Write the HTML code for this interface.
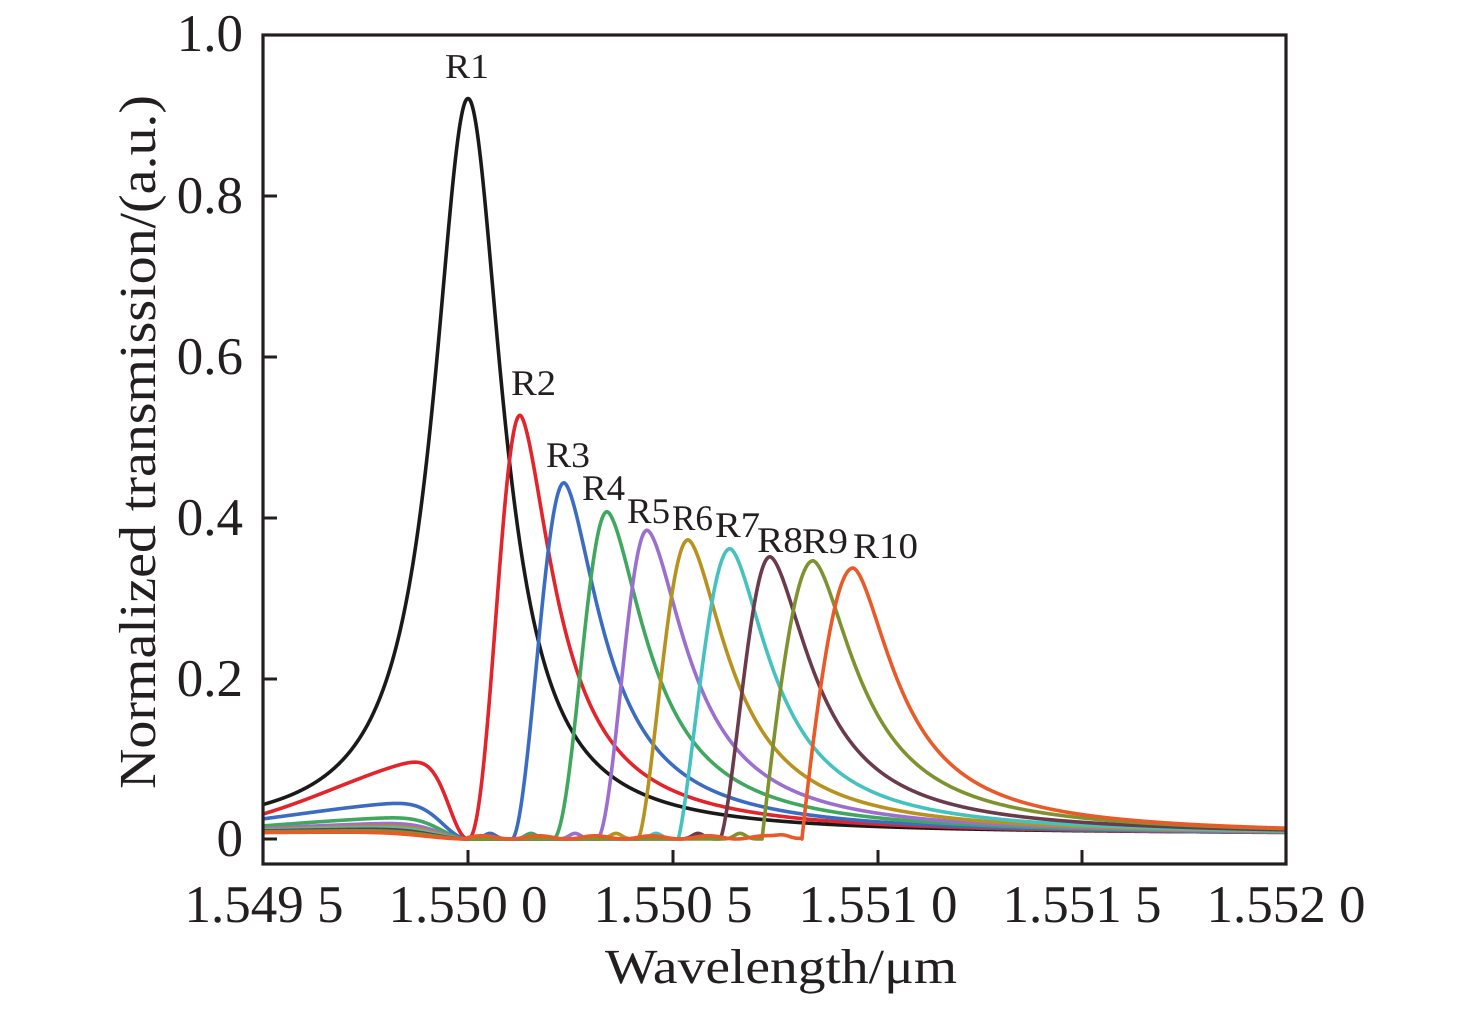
<!DOCTYPE html>
<html>
<head>
<meta charset="utf-8">
<style>
  html,body{margin:0;padding:0;background:#fff;}
  svg{display:block;}
  text{font-family:"Liberation Serif","Times New Roman",serif;fill:#231f20;}
</style>
</head>
<body>
<svg id="chart" width="1476" height="1010" viewBox="0 0 1476 1010" xmlns="http://www.w3.org/2000/svg" text-rendering="geometricPrecision">
  <rect x="0" y="0" width="1476" height="1010" fill="#ffffff"/>
  <defs>
    <clipPath id="plotclip">
      <rect x="263" y="35" width="1023" height="829"/>
    </clipPath>
  </defs>

  <g id="curves" clip-path="url(#plotclip)" fill="none" stroke-width="3.6" stroke-linejoin="round" stroke-linecap="round"></g>

  <!-- axes box -->
  <rect x="263" y="35" width="1023" height="829" fill="none" stroke="#231f20" stroke-width="3.2"/>

  <!-- ticks -->
  <g stroke="#231f20" stroke-width="3">
    <line x1="263" y1="196" x2="277" y2="196"/>
    <line x1="263" y1="357" x2="277" y2="357"/>
    <line x1="263" y1="518" x2="277" y2="518"/>
    <line x1="263" y1="679" x2="277" y2="679"/>
    <line x1="263" y1="839" x2="277" y2="839"/>
    <line x1="468" y1="864" x2="468" y2="850"/>
    <line x1="673" y1="864" x2="673" y2="850"/>
    <line x1="878" y1="864" x2="878" y2="850"/>
    <line x1="1082" y1="864" x2="1082" y2="850"/>
  </g>

  <!-- y tick labels -->
  <g font-size="53" text-anchor="end">
    <text x="243" y="51">1.0</text>
    <text x="243" y="213">0.8</text>
    <text x="243" y="374">0.6</text>
    <text x="243" y="535">0.4</text>
    <text x="243" y="696">0.2</text>
    <text x="243" y="856">0</text>
  </g>

  <!-- x tick labels -->
  <g font-size="53" text-anchor="middle">
    <text x="264" y="922">1.549 5</text>
    <text x="468" y="922">1.550 0</text>
    <text x="673" y="922">1.550 5</text>
    <text x="878" y="922">1.551 0</text>
    <text x="1082" y="922">1.551 5</text>
    <text x="1286" y="922">1.552 0</text>
  </g>

  <!-- axis titles -->
  <text x="605" y="983" font-size="49" textLength="352" lengthAdjust="spacingAndGlyphs">Wavelength/μm</text>
  <text transform="translate(155,442) rotate(-90)" text-anchor="middle" font-size="52" textLength="694" lengthAdjust="spacingAndGlyphs">Normalized transmission/(a.u.)</text>

  <!-- peak labels -->
  <g font-size="36">
    <text x="445" y="78" font-size="35" textLength="44" lengthAdjust="spacingAndGlyphs">R1</text>
    <text x="511" y="395" textLength="45" lengthAdjust="spacingAndGlyphs">R2</text>
    <text x="546" y="467" textLength="44" lengthAdjust="spacingAndGlyphs">R3</text>
    <text x="582" y="500" textLength="43" lengthAdjust="spacingAndGlyphs">R4</text>
    <text x="627" y="523" textLength="43" lengthAdjust="spacingAndGlyphs">R5</text>
    <text x="672" y="530" textLength="41" lengthAdjust="spacingAndGlyphs">R6</text>
    <text x="715" y="537" textLength="45" lengthAdjust="spacingAndGlyphs">R7</text>
    <text x="757" y="552" textLength="46" lengthAdjust="spacingAndGlyphs">R8</text>
    <text x="802" y="553" textLength="46" lengthAdjust="spacingAndGlyphs">R9</text>
    <text x="853" y="558" textLength="65" lengthAdjust="spacingAndGlyphs">R10</text>
  </g>
</svg>

<script>
(function(){
  var Y0 = 839, SY = 804;
  var g = document.getElementById('curves');
  var NS = 'http://www.w3.org/2000/svg';
  function Y(v){ return (Y0 - SY*v); }

  function addPath(fn, color){
    var d = '';
    for (var x = 262; x <= 1288; x += 0.5){
      var v = fn(x);
      d += (d ? 'L' : 'M') + x.toFixed(1) + ' ' + Y(v).toFixed(2);
    }
    var p = document.createElementNS(NS, 'path');
    p.setAttribute('d', d);
    p.setAttribute('stroke', color);
    g.appendChild(p);
  }

  // R1 black: Lorentzian
  addPath(function(x){
    var e = (x - 468)/42;
    return 0.915/(1 + e*e) + 0.006;
  }, '#1a1a1a');

  var curves = [
    {c:'#e3242b', xz:468, xp:520, A:0.527, k:2.2,  w:44, P:0.106, a:27, cc:185},
    {c:'#3b6cc2', xz:512, xp:564, A:0.443, k:1.8,  w:48, P:0.049, a:36, cc:250},
    {c:'#3fa85e', xz:553, xp:607, A:0.407, k:2.0,  w:51, P:0.029, a:38, cc:270},
    {c:'#9b6fcf', xz:597, xp:647, A:0.384, k:1.85, w:52, P:0.021, a:40, cc:300},
    {c:'#b8921f', xz:638, xp:688, A:0.372, k:1.5,  w:52, P:0.017, a:42, cc:330},
    {c:'#45c2c0', xz:678, xp:730, A:0.361, k:1.3,  w:52, P:0.015, a:45, cc:360},
    {c:'#6b3a4c', xz:720, xp:770, A:0.351, k:1.45, w:54, P:0.013, a:48, cc:400},
    {c:'#7f9230', xz:762, xp:813, A:0.346, k:1.0,  w:56, P:0.011, a:52, cc:450},
    {c:'#ea5a28', xz:802, xp:853, A:0.337, k:0.95, w:54, P:0.009, a:60, cc:600}
  ];

  curves.forEach(function(p, idx){
    addPath(function(x){
      if (x < 468){
        var u = 468 - x;
        return p.P*(1 - Math.exp(-Math.pow(u/p.a,2)))*Math.exp(-Math.pow(u/p.cc,2));
      }
      if (x < p.xz){
        if (idx === 8){
          return 0.002 + 0.002*Math.sin((x-468)/9) + 0.004*Math.exp(-Math.pow((x-(p.xz-18))/10,2));
        }
        return 0.007*Math.exp(-Math.pow((x-(p.xz-22))/8,2));
      }
      if (x < p.xp){
        var s = (x - p.xz)/(p.xp - p.xz);
        return p.A*Math.pow(Math.sin(Math.PI/2*s), p.k);
      }
      var d = x - p.xp;
      var r = Math.pow(d/p.w, 1.7);
      var q = (d/p.w)*(d/p.w);
      return p.A/(1 + r) + 0.004*(1 - 1/(1 + q));
    }, p.c);
  });
})();
</script>
</body>
</html>
